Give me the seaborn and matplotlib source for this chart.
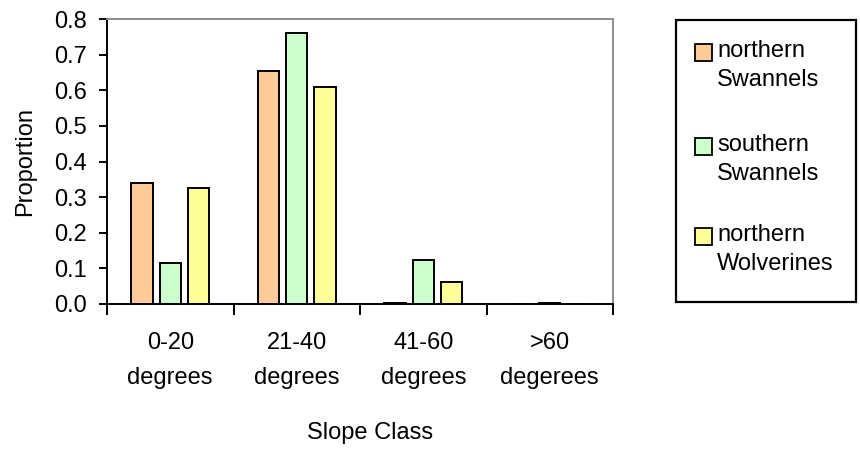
import matplotlib
matplotlib.use("Agg")
import matplotlib.pyplot as plt
from matplotlib.patches import Rectangle
import seaborn as sns
import pandas as pd

# Slope class categories and proportions of locations per population
categories = ["0-20\ndegrees", "21-40\ndegrees", "41-60\ndegrees", ">60\ndegerees"]
northern_swannels = [0.340, 0.654, 0.004, 0.0]
southern_swannels = [0.114, 0.760, 0.124, 0.002]
northern_wolverines = [0.327, 0.610, 0.061, 0.0]
series_names = ["northern\nSwannels", "southern\nSwannels", "northern\nWolverines"]
series_colors = ["#FFCC99", "#CCFFCC", "#FFFF99"]
y_ticks = [0.0, 0.1, 0.2, 0.3, 0.4, 0.5, 0.6, 0.7, 0.8]

rows = []
for name, vals in zip(series_names, [northern_swannels, southern_swannels, northern_wolverines]):
    for cat, v in zip(categories, vals):
        rows.append({"Slope Class": cat, "Proportion": v, "Population": name})
df = pd.DataFrame(rows)

sns.set_theme(style="white")
plt.rcParams["font.family"] = ["Liberation Sans", "DejaVu Sans"]
plt.rcParams.update({"text.color": "black", "axes.labelcolor": "black",
                     "xtick.color": "black", "ytick.color": "black"})
FS = 17

W, H = 860, 449
fig = plt.figure(figsize=(W / 100, H / 100), dpi=100)
ax = fig.add_axes([107 / W, 1 - 304 / H, (613 - 107) / W, (304 - 19) / H])

sns.barplot(
    data=df, x="Slope Class", y="Proportion", hue="Population",
    order=categories, hue_order=series_names, palette=series_colors,
    saturation=1, width=0.671, gap=0.25, edgecolor="black", linewidth=1.4,
    legend=False, ax=ax,
)

ax.set_xlim(-0.5, len(categories) - 0.5)
ax.set_ylim(0, 0.8)
ax.set_yticks(y_ticks)
ax.set_yticklabels([f"{t:.1f}" for t in y_ticks])

# Tick marks on category boundaries, labels centred under each group
ax.set_xticks([i - 0.5 for i in range(len(categories) + 1)])
ax.set_xticklabels([])
ax.set_xticks(range(len(categories)), minor=True)
ax.set_xticklabels(categories, minor=True, fontsize=FS, linespacing=1.8,
                   color="black")
ax.tick_params(axis="x", which="major", direction="out", length=8, width=1.4,
               color="black", bottom=True)
ax.tick_params(axis="x", which="minor", length=0, pad=20)
ax.tick_params(axis="y", direction="out", length=5.5, width=1.4, color="black",
               left=True, labelsize=FS, pad=9, labelcolor="black")

for side in ["left", "bottom"]:
    ax.spines[side].set_color("black")
    ax.spines[side].set_linewidth(1.4)
for side in ["top", "right"]:
    ax.spines[side].set_color("#8c8c8c")
    ax.spines[side].set_linewidth(1.4)
    ax.spines[side].set_visible(True)

ax.set_xlabel("")
ax.set_ylabel("Proportion", fontsize=FS, color="black", labelpad=13)
fig.text(370 / W, 1 - 433 / H, "Slope Class", ha="center", va="center",
         fontsize=FS, color="black")

# Legend drawn as a framed box with swatches aligned to the first text line
fig.add_artist(Rectangle((676 / W, 1 - 302 / H), (856 - 676) / W, (302 - 20) / H,
                         transform=fig.transFigure, facecolor="white",
                         edgecolor="black", linewidth=1.6))
first_line_y = [53, 147, 237]
for name, color, y in zip(series_names, series_colors, first_line_y):
    fig.add_artist(Rectangle((695 / W, 1 - (y + 8) / H), 17 / W, 17 / H,
                             transform=fig.transFigure, facecolor=color,
                             edgecolor="black", linewidth=1.3))
    fig.text(717 / W, 1 - (y - 13) / H, name, ha="left", va="top",
             fontsize=FS, color="black", linespacing=1.4)

fig.savefig("out.png", dpi=100, facecolor="white")
